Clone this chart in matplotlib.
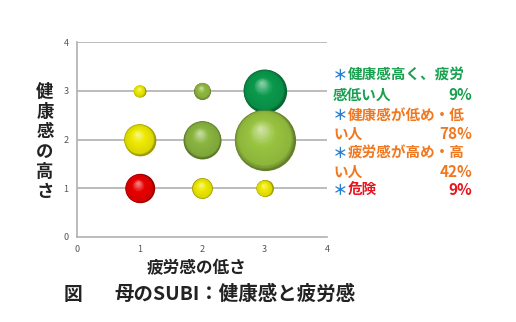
import numpy as np
import matplotlib
matplotlib.use("Agg")
import matplotlib.pyplot as plt
import matplotlib.transforms as mtransforms
from matplotlib.colors import to_rgb

plt.rcParams["font.family"] = ["Noto Sans CJK JP", "DejaVu Sans"]

# ---- data ----
fatigue_low = [1, 2, 3, 1, 2, 3, 1, 2, 3]          # x: 疲労感の低さ
health_high = [3, 3, 3, 2, 2, 2, 1, 1, 1]          # y: 健康感の高さ
counts = [1, 2, 13, 7, 10, 26, 6, 3, 2]            # bubble size (people)
colors = ["#eeea00", "#90b840", "#0a9a4c",
          "#eeea00", "#8ab640", "#98c440",
          "#e80000", "#eeea00", "#eeea00"]

legend_rows = [
    ("＊", "健康感高く、疲労", "", "#1aa050"),
    ("", "感低い人", "9%", "#1aa050"),
    ("＊", "健康感が低め・低", "", "#f07820"),
    ("", "い人", "78%", "#f07820"),
    ("＊", "疲労感が高め・高", "", "#f07820"),
    ("", "い人", "42%", "#f07820"),
    ("＊", "危険", "9%", "#e8141e"),
]
legend_y = [75, 95, 115, 134, 153, 172, 190]   # pixel rows

W, H = 516, 322
fig = plt.figure(figsize=(W / 100, H / 100), dpi=100)
ax = fig.add_axes([77 / W, 1 - 237 / H, 250 / W, 195 / H])

ax.set_xlim(0, 4)
ax.set_ylim(0, 4)
ax.set_xticks(range(5))
ax.set_yticks(range(5))
ax.tick_params(length=0, labelsize=6.5, labelcolor="#555555", pad=6)
for y in range(1, 5):
    ax.axhline(y, color="#b0b0b0", lw=1.2, zorder=0)
for s in ["top", "right"]:
    ax.spines[s].set_visible(False)
for s in ["left", "bottom"]:
    ax.spines[s].set_color("#b0b0b0")
    ax.spines[s].set_linewidth(1.2)

unit = 74.6  # pt^2 per person
n_layers = 30
for x, y, n, c in zip(fatigue_low, health_high, counts, colors):
    base = np.array(to_rgb(c))
    s = n * unit
    r_pt = np.sqrt(s) / 2
    for i in range(n_layers):
        f = i / (n_layers - 1)
        if f < 0.12:
            col = base * (0.65 + f / 0.12 * 0.27)
        elif f < 0.6:
            col = base * (0.92 + (f - 0.12) / 0.48 * 0.08)
        else:
            t = (f - 0.6) / 0.4
            col = base + (np.ones(3) - base) * 0.5 * t
        col = np.clip(col, 0, 1)
        scale = (1 - 0.93 * f)
        off = f * 0.35 * r_pt
        tr = ax.transData + mtransforms.ScaledTranslation(-off * 0.4 / 72, off / 72, fig.dpi_scale_trans)
        ax.scatter([x], [y], s=s * scale ** 2, color=col, transform=tr,
                   linewidths=0, zorder=3 + i / 100)

# axis labels
for k, ch in enumerate("健康感の高さ"):
    fig.text(45 / W, 1 - (92 + k * 20) / H, ch, fontsize=12.5, fontweight="bold",
             ha="center", va="center", color="#222222")
fig.text(197 / W, 1 - 268 / H, "疲労感の低さ", fontsize=12, fontweight="bold",
         ha="center", va="center", color="#222222")
fig.text(64 / W, 1 - 294 / H, "図", fontsize=13.5, fontweight="bold",
         ha="left", va="center", color="#222222")
fig.text(114 / W, 1 - 294 / H, "母のSUBI：健康感と疲労感", fontsize=14, fontweight="bold",
         ha="left", va="center", color="#222222")

# right-side annotations
for (star, txt, pct, col), py in zip(legend_rows, legend_y):
    yy = 1 - py / H
    if star:
        fig.text(333 / W, yy, star, fontsize=10.5, fontweight="bold", color="#2a7fd0",
                 ha="left", va="center")
        fig.text(348 / W, yy, txt, fontsize=10.5, fontweight="bold", color=col,
                 ha="left", va="center")
    else:
        fig.text(333 / W, yy, txt, fontsize=10.5, fontweight="bold", color=col,
                 ha="left", va="center")
    if pct:
        fig.text(472 / W, yy, pct, fontsize=11, fontweight="bold", color=col,
                 ha="right", va="center")

fig.savefig("out.png", dpi=100)
